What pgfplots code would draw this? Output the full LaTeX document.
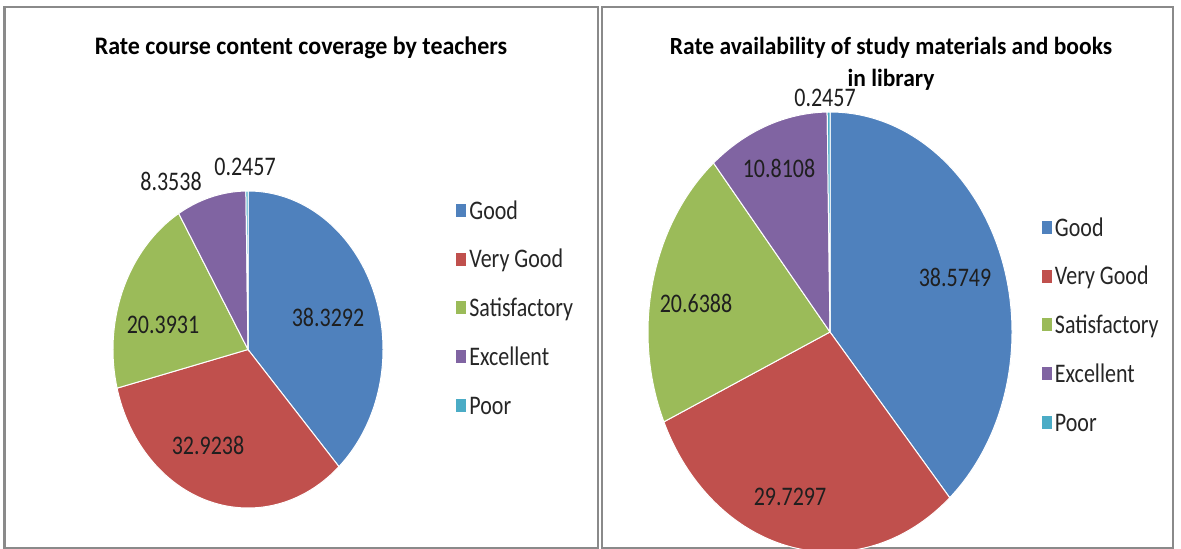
\documentclass[border=0pt]{standalone}
\usepackage{pgfplots}
\usepackage{pgfplotstable}
\usepackage{fontspec}
\setmainfont{Carlito}
\pgfplotsset{compat=1.18}

\definecolor{pie0}{HTML}{4F81BD}
\definecolor{pie1}{HTML}{C0504D}
\definecolor{pie2}{HTML}{9BBB59}
\definecolor{pie3}{HTML}{8064A2}
\definecolor{pie4}{HTML}{4BACC6}
\definecolor{frame}{HTML}{8A8A8A}

% Rate course content coverage by teachers
\pgfplotstableread{
label value
Good 38.3292
VeryGood 32.9238
Satisfactory 20.3931
Excellent 8.3538
Poor 0.2457
}\tabA
% Rate availability of study materials and books in library
\pgfplotstableread{
label value
Good 38.5749
VeryGood 29.7297
Satisfactory 20.6388
Excellent 10.8108
Poor 0.2457
}\tabB

\newcommand\computepie[2]{%
  \xdef\pietot{0}%
  \foreach \i in {0,...,4}{%
    \pgfplotstablegetelem{\i}{value}\of#1%
    \pgfmathsetmacro\pietmp{\pietot+\pgfplotsretval}%
    \xdef\pietot{\pietmp}}%
  \xdef\pieang{90}%
  \foreach \i in {0,...,4}{%
    \pgfplotstablegetelem{\i}{value}\of#1%
    \pgfmathsetmacro\pietmp{\pieang-360*\pgfplotsretval/\pietot}%
    \expandafter\xdef\csname #2s\i\endcsname{\pieang}%
    \expandafter\xdef\csname #2e\i\endcsname{\pietmp}%
    \xdef\pieang{\pietmp}}%
}

% prefix, index, cx, cy, rx, ry
\newcommand\piewedge[6]{%
  \edef\piecmd{\noexpand\addplot[fill=pie#2, draw=white, line width=0.5pt]
    coordinates {(#3,#4)} -- ++(\csname #1s#2\endcsname:#5 and #6)
    arc[start angle=\csname #1s#2\endcsname, end angle=\csname #1e#2\endcsname,
        x radius=#5, y radius=#6] -- cycle;}%
  \piecmd}

% vertical stretch of the text, as in the reference
\newcommand\vs[1]{\scalebox{1}[1.22]{#1}}
\newcommand\vt[1]{\scalebox{1}[1.05]{#1}}

\pgfplotsset{
  panel/.style={
    x=0.5pt, y=0.5pt, ymin=0, ymax=549, y dir=reverse,
    hide axis, clip=true, anchor=south west,
    legend cell align=left,
    legend image code/.code={\fill (0pt,-1.85pt) rectangle (5.5pt,5.15pt);},
    legend style={draw=none, fill=none, inner sep=0pt, outer sep=0pt,
      anchor=north west, row sep=13.7pt,
      font=\fontsize{11}{13}\selectfont,
      nodes={inner xsep=1.2pt, inner ysep=0pt, text height=8pt, text depth=2.5pt, text=black!85}},
  },
}
\tikzset{
  lab/.style={font=\fontsize{11}{13}\selectfont, text=black!88, inner sep=0pt},
  ttl/.style={font=\bfseries\fontsize{12}{14}\selectfont, anchor=base, inner sep=0pt},
}

\begin{document}
\computepie{\tabA}{A}%
\computepie{\tabB}{B}%
\begin{tikzpicture}
\useasboundingbox (0,0) rectangle (590.5pt,274.5pt);
\fill[white] (0,0) rectangle (590.5pt,274.5pt);

% ---------- left panel ----------
\begin{axis}[panel, at={(0pt,0pt)}, xmin=0, xmax=600,
  legend style={at={(axis description cs:0.7583,0.6303)}}]
\draw[frame, line width=1.1pt] (axis cs:4.5,7) rectangle (axis cs:598,548);
\piewedge{A}{0}{248}{349.5}{67.5pt}{79.25pt}
\piewedge{A}{1}{248}{349.5}{67.5pt}{79.25pt}
\piewedge{A}{2}{248}{349.5}{67.5pt}{79.25pt}
\piewedge{A}{3}{248}{349.5}{67.5pt}{79.25pt}
\piewedge{A}{4}{248}{349.5}{67.5pt}{79.25pt}
\legend{\vs{Good},\vs{Very Good},\vs{Satisfactory},\vs{Excellent},\vs{Poor}}
\node[ttl] at (axis cs:301,54.5) {\vt{Rate course content coverage by teachers}};
\node[lab] at (axis cs:328,317) {\vs{38.3292}};
\node[lab] at (axis cs:208,445) {\vs{32.9238}};
\node[lab] at (axis cs:163,325) {\vs{20.3931}};
\node[lab] at (axis cs:171,181) {\vs{8.3538}};
\node[lab] at (axis cs:245,167) {\vs{0.2457}};
\end{axis}

% ---------- right panel ----------
\begin{axis}[panel, at={(300pt,0pt)}, xmin=600, xmax=1181,
  legend style={at={(axis description cs:0.7582,0.5993)}}]
\draw[frame, line width=1.1pt] (axis cs:602,7) rectangle (axis cs:1173,548);
\piewedge{B}{0}{830}{332}{91pt}{110pt}
\piewedge{B}{1}{830}{332}{91pt}{110pt}
\piewedge{B}{2}{830}{332}{91pt}{110pt}
\piewedge{B}{3}{830}{332}{91pt}{110pt}
\piewedge{B}{4}{830}{332}{91pt}{110pt}
\legend{\vs{Good},\vs{Very Good},\vs{Satisfactory},\vs{Excellent},\vs{Poor}}
\node[ttl, font=\bfseries\fontsize{11.75}{14}\selectfont] at (axis cs:891,54.5) {\vt{Rate availability of study materials and books}};
\node[ttl, font=\bfseries\fontsize{11.75}{14}\selectfont] at (axis cs:891,87) {\vt{in library}};
\node[lab] at (axis cs:955,277) {\vs{38.5749}};
\node[lab] at (axis cs:790,497) {\vs{29.7297}};
\node[lab] at (axis cs:696,303) {\vs{20.6388}};
\node[lab] at (axis cs:779,168) {\vs{10.8108}};
\node[lab] at (axis cs:825,98) {\vs{0.2457}};
\end{axis}
\end{tikzpicture}
\end{document}
